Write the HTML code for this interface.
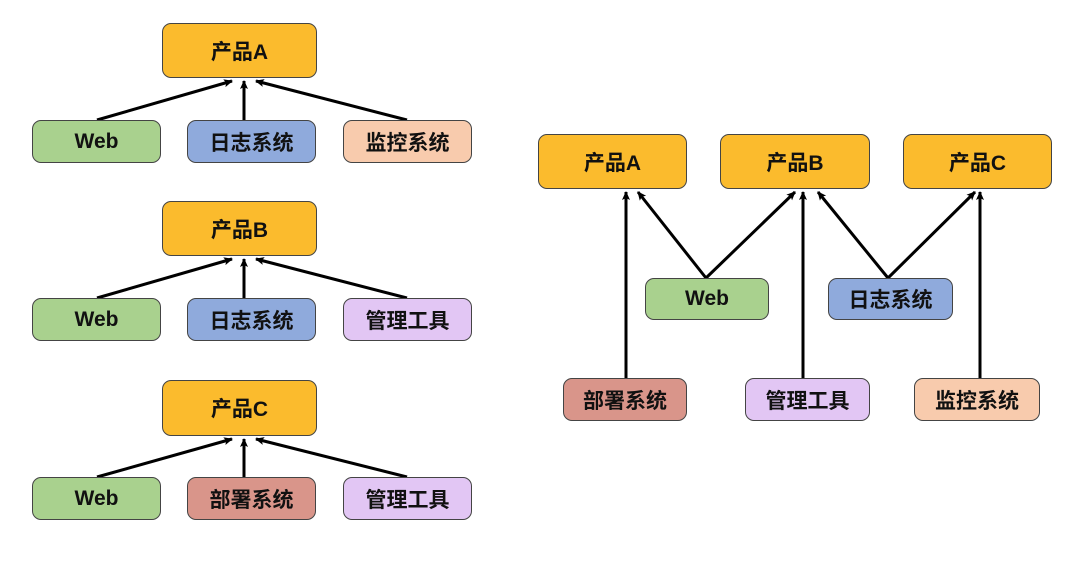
<!DOCTYPE html>
<html><head><meta charset="utf-8"><style>
body{margin:0;width:1080px;height:568px;background:#fff;position:relative;overflow:hidden;font-family:"Liberation Sans","Noto Sans CJK SC",sans-serif}
.b{position:absolute;box-sizing:border-box;border:1.5px solid #444;border-radius:9px;display:flex;align-items:center;justify-content:center;font-weight:bold;font-size:21px;color:#111}
.o{background:#FBBB2D}.g{background:#A9D18E}.bl{background:#8FAADC}.p{background:#F8CBAD}.r{background:#D9958A}.v{background:#E2C6F4}
svg{position:absolute;left:0;top:0}
</style></head><body>
<svg width="1080" height="568"><defs><marker id="a" markerWidth="10" markerHeight="10" refX="8" refY="4" orient="auto" markerUnits="userSpaceOnUse"><path d="M0,0 L9,4 L0,8 L2,4z" fill="#000"/></marker></defs>
<g stroke="#000" stroke-width="3" marker-end="url(#a)" fill="none">
<line x1="97" y1="120" x2="232" y2="81"/><line x1="244" y1="120" x2="244" y2="81"/><line x1="407" y1="120" x2="256" y2="81"/>
<line x1="97" y1="298" x2="232" y2="259"/><line x1="244" y1="298" x2="244" y2="259"/><line x1="407" y1="298" x2="256" y2="259"/>
<line x1="97" y1="477" x2="232" y2="439"/><line x1="244" y1="477" x2="244" y2="439"/><line x1="407" y1="477" x2="256" y2="439"/>
<line x1="626" y1="378" x2="626" y2="192"/><line x1="706" y1="278" x2="638" y2="192"/><line x1="706" y1="278" x2="795" y2="192"/>
<line x1="803" y1="378" x2="803" y2="192"/><line x1="888" y1="278" x2="818" y2="192"/><line x1="888" y1="278" x2="975" y2="192"/>
<line x1="980" y1="378" x2="980" y2="192"/>
</g></svg>
<div class="b o" style="left:162px;top:23px;width:155px;height:55px">产品A</div>
<div class="b g" style="left:32px;top:120px;width:129px;height:43px">Web</div>
<div class="b bl" style="left:187px;top:120px;width:129px;height:43px">日志系统</div>
<div class="b p" style="left:343px;top:120px;width:129px;height:43px">监控系统</div>
<div class="b o" style="left:162px;top:201px;width:155px;height:55px">产品B</div>
<div class="b g" style="left:32px;top:298px;width:129px;height:43px">Web</div>
<div class="b bl" style="left:187px;top:298px;width:129px;height:43px">日志系统</div>
<div class="b v" style="left:343px;top:298px;width:129px;height:43px">管理工具</div>
<div class="b o" style="left:162px;top:380px;width:155px;height:56px">产品C</div>
<div class="b g" style="left:32px;top:477px;width:129px;height:43px">Web</div>
<div class="b r" style="left:187px;top:477px;width:129px;height:43px">部署系统</div>
<div class="b v" style="left:343px;top:477px;width:129px;height:43px">管理工具</div>
<div class="b o" style="left:538px;top:134px;width:149px;height:55px">产品A</div>
<div class="b o" style="left:720px;top:134px;width:150px;height:55px">产品B</div>
<div class="b o" style="left:903px;top:134px;width:149px;height:55px">产品C</div>
<div class="b g" style="left:645px;top:278px;width:124px;height:42px">Web</div>
<div class="b bl" style="left:828px;top:278px;width:125px;height:42px">日志系统</div>
<div class="b r" style="left:563px;top:378px;width:124px;height:43px">部署系统</div>
<div class="b v" style="left:745px;top:378px;width:125px;height:43px">管理工具</div>
<div class="b p" style="left:914px;top:378px;width:126px;height:43px">监控系统</div>
</body></html>
